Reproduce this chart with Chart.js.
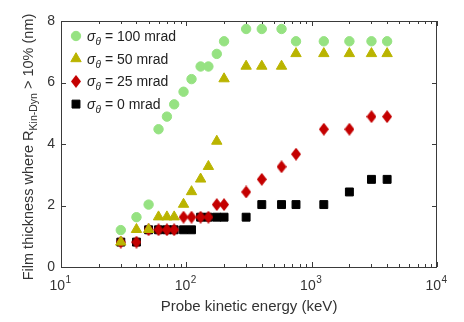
<!DOCTYPE html>
<html>
<head>
<meta charset="utf-8">
<script src="https://cdn.jsdelivr.net/npm/chart.js@4.4.0/dist/chart.umd.min.js"></script>
<style>
  body { margin: 0; background: #fff; }
  #wrap { width: 464px; height: 322px; }
</style>
</head>
<body>
<div id="wrap"><canvas id="chart" width="464" height="322"></canvas></div>
<script>
// probe energies (keV) and film thickness (nm) per angular spread
const energy   = [30, 40, 50, 60, 70, 80, 95, 110, 130, 150, 175, 200, 300, 400, 575, 750, 1250, 2000, 3000, 4000];
const thick100 = [1.2, 1.62, 2.03, 4.48, 4.89, 5.29, 5.7, 6.11, 6.52, 6.52, 6.93, 7.34, 7.74, 7.74, 7.74, 7.34, 7.34, 7.34, 7.34, 7.34];
const thick50  = [0.81, 1.22, 1.22, 1.63, 1.63, 1.63, 2.04, 2.45, 2.86, 3.27, 4.09, 6.12, 6.53, 6.53, 6.53, 6.94, 6.94, 6.94, 6.94, 6.94];
const thick25  = [0.81, 0.81, 1.21, 1.21, 1.21, 1.21, 1.62, 1.62, 1.62, 1.62, 2.03, 2.03, 2.44, 2.85, 3.26, 3.67, 4.48, 4.48, 4.89, 4.89];
const thick0   = [0.81, 0.81, 1.21, 1.21, 1.21, 1.21, 1.21, 1.21, 1.62, 1.62, 1.62, 1.62, 1.62, 2.03, 2.03, 2.03, 2.03, 2.44, 2.85, 2.85];
const sigmas   = ['100', '50', '25', '0'];
const yTicks   = [0, 2, 4, 6, 8];
const xDecades = [10, 100, 1000, 10000];

const green = 'rgb(150,226,130)';
const olive = 'rgb(186,180,0)';
const red = 'rgb(196,0,0)';
const black = '#000';

// taller-than-wide diamond like matlab's 'd' marker
const diamond = document.createElement('canvas');
diamond.width = 10; diamond.height = 13;
(function () {
  const c = diamond.getContext('2d');
  c.fillStyle = red;
  c.beginPath();
  c.moveTo(5, 0); c.lineTo(10, 6.5); c.lineTo(5, 13); c.lineTo(0, 6.5);
  c.closePath(); c.fill();
})();

function pts(ys) {
  return energy.map((e, i) => ({x: e, y: ys[i]}));
}

const series = [
  {label: sigmas[0], data: pts(thick100), pointStyle: 'circle', pointRadius: 4.7, backgroundColor: green, borderColor: green},
  {label: sigmas[1], data: pts(thick50), pointStyle: 'triangle', pointRadius: 6, backgroundColor: olive, borderColor: olive},
  {label: sigmas[2], data: pts(thick25), pointStyle: diamond, pointRadius: 6, backgroundColor: red, borderColor: red},
  {label: sigmas[3], data: pts(thick0), pointStyle: 'rect', pointRadius: 5.6, backgroundColor: black, borderColor: black}
];

const font = '"Liberation Sans", Arial, sans-serif';

const frame = {
  id: 'frame',
  afterDraw(chart) {
    const ctx = chart.ctx;
    const a = chart.chartArea;
    const x = chart.scales.x, y = chart.scales.y;
    ctx.save();
    ctx.strokeStyle = '#3a3a3a';
    ctx.lineWidth = 1;
    ctx.strokeRect(a.left + 0.5, a.top + 0.5, a.right - a.left - 1, a.bottom - a.top);

    // x ticks, inward on bottom and top
    ctx.beginPath();
    for (let d = 10; d < 10000; d *= 10) {
      for (let m = 1; m <= 10; m++) {
        const px = Math.round(x.getPixelForValue(d * m)) + 0.5;
        const len = (m === 1 || m === 10) ? 5 : 3;
        ctx.moveTo(px, a.bottom); ctx.lineTo(px, a.bottom - len);
        ctx.moveTo(px, a.top); ctx.lineTo(px, a.top + len);
      }
    }
    yTicks.forEach(v => {
      const py = Math.round(y.getPixelForValue(v)) + 0.5;
      ctx.moveTo(a.left, py); ctx.lineTo(a.left + 5, py);
      ctx.moveTo(a.right, py); ctx.lineTo(a.right - 5, py);
    });
    ctx.stroke();

    // y tick labels
    ctx.fillStyle = '#333';
    ctx.font = '14px ' + font;
    ctx.textAlign = 'right';
    ctx.textBaseline = 'middle';
    yTicks.forEach(v => ctx.fillText(String(v), a.left - 6, y.getPixelForValue(v)));

    // x tick labels 10^n
    ctx.textBaseline = 'alphabetic';
    xDecades.forEach((d, i) => {
      const px = x.getPixelForValue(d);
      ctx.font = '14px ' + font;
      ctx.textAlign = 'right';
      ctx.fillText('10', px + 4, 290);
      ctx.font = '10px ' + font;
      ctx.textAlign = 'left';
      ctx.fillText(String(i + 1), px + 4.5, 283);
    });

    // x title
    ctx.font = '15px ' + font;
    ctx.textAlign = 'center';
    ctx.fillText('Probe kinetic energy (keV)', (a.left + a.right) / 2, 311);

    // y title with subscript
    ctx.save();
    ctx.translate(33, 147);
    ctx.rotate(-Math.PI / 2);
    const p1 = 'Film thickness where R', sub = 'Kin-Dyn', p2 = ' > 10% (nm)';
    ctx.font = '14.5px ' + font;
    const w1 = ctx.measureText(p1).width, w3 = ctx.measureText(p2).width;
    ctx.font = '10.5px ' + font;
    const w2 = ctx.measureText(sub).width;
    let sx = -(w1 + w2 + w3) / 2;
    ctx.textAlign = 'left';
    ctx.font = '14.5px ' + font;
    ctx.fillText(p1, sx, 0); sx += w1;
    ctx.font = '10.5px ' + font;
    ctx.fillText(sub, sx, 3.5); sx += w2;
    ctx.font = '14.5px ' + font;
    ctx.fillText(p2, sx, 0);
    ctx.restore();

    // legend
    series.forEach((s, i) => {
      const ly = 36 + i * 22.7;
      ctx.fillStyle = s.backgroundColor;
      ctx.strokeStyle = s.borderColor;
      Chart.helpers.drawPoint(ctx, {pointStyle: s.pointStyle, radius: s.pointRadius, rotation: 0, borderWidth: 1}, 76, ly);
      ctx.fillStyle = '#222';
      ctx.textAlign = 'left';
      ctx.font = 'italic 14px ' + font;
      ctx.fillText('\u03c3', 87, ly + 5);
      ctx.font = 'italic 10px ' + font;
      ctx.fillText('\u03b8', 95.5, ly + 9);
      ctx.font = '14px ' + font;
      ctx.fillText(' = ' + s.label + ' mrad', 101, ly + 5);
    });
    ctx.restore();
  }
};

new Chart(document.getElementById('chart'), {
  type: 'scatter',
  data: {datasets: series.map(s => Object.assign({borderWidth: 1, pointHoverRadius: s.pointRadius}, s))},
  options: {
    responsive: false,
    animation: false,
    layout: {padding: {top: 21, right: 27, left: 61, bottom: 55}},
    plugins: {legend: {display: false}, tooltip: {enabled: false}},
    scales: {
      x: {
        type: 'logarithmic', min: 10, max: 10000,
        grid: {display: false, drawTicks: false}, border: {display: false},
        ticks: {display: false},
        afterFit(s) { s.height = 0; }
      },
      y: {
        min: 0, max: 8,
        grid: {display: false, drawTicks: false}, border: {display: false},
        ticks: {display: false},
        afterFit(s) { s.width = 0; }
      }
    }
  },
  plugins: [frame]
});
</script>
</body>
</html>
